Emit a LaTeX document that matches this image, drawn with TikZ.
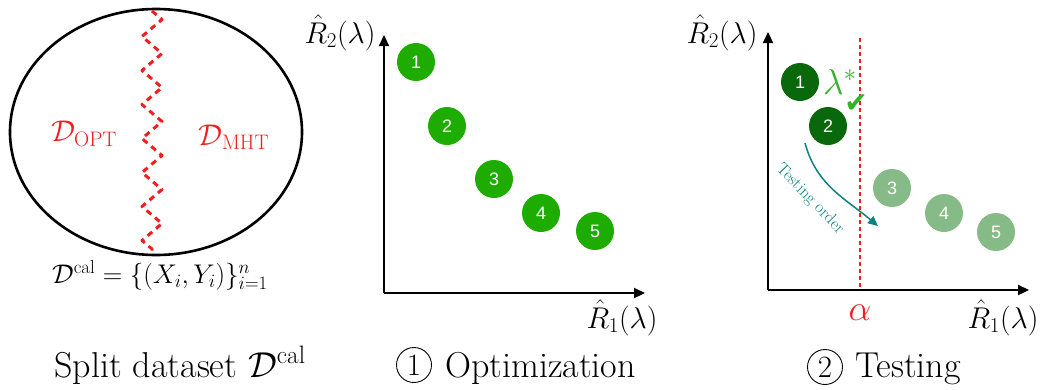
\documentclass[tikz,border=0pt]{standalone}
\usepackage{fix-cm}
\usepackage{fontspec}
\newfontfamily\numfont{Liberation Sans}
\newfontfamily\symfont{DejaVu Sans}
\usetikzlibrary{arrows.meta,decorations.pathmorphing,positioning,shapes.geometric}
\definecolor{ptgreen}{RGB}{31,172,0}
\definecolor{darkgr}{RGB}{10,104,12}
\definecolor{lightgr}{RGB}{134,186,134}
\definecolor{lamgreen}{RGB}{52,178,40}
\definecolor{teal2}{RGB}{18,128,128}
\definecolor{myred}{RGB}{240,30,30}
\newcommand{\fsz}[1]{\fontsize{#1}{#1}\selectfont}
\tikzset{
  pt/.style={circle, fill=#1, text=white, minimum size=38pt, inner sep=0pt, font=\numfont\fsz{18}},
  axis/.style={line width=2.2pt, -{Triangle[length=11pt,width=10pt]}},
  caption/.style={font=\fsz{36}, anchor=base west, inner sep=0pt},
  circnum/.style={circle, draw, line width=0.9pt, minimum size=35pt, inner sep=0pt, font=\fsz{31}},
  axlabel/.style={font=\fsz{30}, inner sep=0pt},
}
\begin{document}
\begin{tikzpicture}[x={(1pt,0)}, y={(0,-1pt)}]
\useasboundingbox (0,0) rectangle (1043,389);
% ---- left panel
\node[draw, ellipse, line width=2.6pt, minimum width=292pt, minimum height=246pt, inner sep=0pt] (ell) at (156,132) {};
\coordinate (ztop) at (152,11);
\coordinate (zbot) at (152,253);
\draw[myred, line width=3pt, dash pattern=on 6pt off 5pt, line join=round,
      decorate, decoration={zigzag, amplitude=10pt, segment length=34pt}] (ztop) -- (zbot);
\node[text=myred, font=\fsz{30}] (dopt) at (84,134) {$\mathcal{D}_{\mathrm{OPT}}$};
\node[text=myred, font=\fsz{30}] (dmht) at (234,137) {$\mathcal{D}_{\mathrm{MHT}}$};
\node[font=\fsz{27}] (dcal) at (160,275) {$\mathcal{D}^{\mathrm{cal}} = \{(X_i,Y_i)\}_{i=1}^{n}$};
\node[font=\fsz{36}, anchor=base] (cap1) at (180,377) {Split dataset $\mathcal{D}^{\mathrm{cal}}$};
% ---- middle panel
\coordinate (o1) at (384,293);
\coordinate (y1) at (384,35);
\coordinate (x1) at (645,293);
\draw[axis] (o1) -- (y1);
\draw[axis] (o1) -- (x1);
\node[axlabel] (r2a) at (340,33) {$\hat{R}_2(\lambda)$};
\node[axlabel] (r1a) at (622,318) {$\hat{R}_1(\lambda)$};
\node[pt=ptgreen] (a1) at (416,62) {1};
\node[pt=ptgreen] (a2) at (447,126) {2};
\node[pt=ptgreen] (a3) at (494,179) {3};
\node[pt=ptgreen] (a4) at (541,213) {4};
\node[pt=ptgreen] (a5) at (595,231) {5};
\node[circnum] (c1) at (414,365) {1};
\node[caption] (cap2) at (445,377) {Optimization};
% ---- right panel
\coordinate (o2) at (768,290);
\coordinate (y2) at (768,32);
\coordinate (x2) at (1029,290);
\draw[axis] (o2) -- (y2);
\draw[axis] (o2) -- (x2);
\node[axlabel] (r2b) at (722,33) {$\hat{R}_2(\lambda)$};
\node[axlabel] (r1b) at (1003,318) {$\hat{R}_1(\lambda)$};
\coordinate (atop) at (860,38);
\coordinate (abot) at (860,290);
\draw[myred, line width=1.6pt, dash pattern=on 4pt off 3pt] (atop) -- (abot);
\node[text=myred, font=\fsz{36}] (alpha) at (860,313) {$\alpha$};
\node[pt=darkgr] (b1) at (800,82) {1};
\node[pt=darkgr] (b2) at (828,126) {2};
\node[pt=lightgr] (b3) at (892,188) {3};
\node[pt=lightgr] (b4) at (944,213) {4};
\node[pt=lightgr] (b5) at (996,232) {5};
\node[text=lamgreen, font=\fsz{36}] (lam) at (840,82) {$\lambda^{*}$};
\node[text=lamgreen, font=\symfont\fsz{28}] (chk) at (856,104) {✔};
\coordinate (ts) at (805,143);
\coordinate (te) at (878,226);
\draw[teal2, line width=1.5pt, -{Triangle[length=10pt,width=9pt]}] (ts) to[out=-75, in=140] (te);
\node[text=teal2, font=\fsz{17}, rotate=-46] (tord) at (810,199) {Testing order};
\node[circnum] (c2) at (825,367) {2};
\node[caption] (cap3) at (855,377) {Testing};
\end{tikzpicture}
\end{document}
